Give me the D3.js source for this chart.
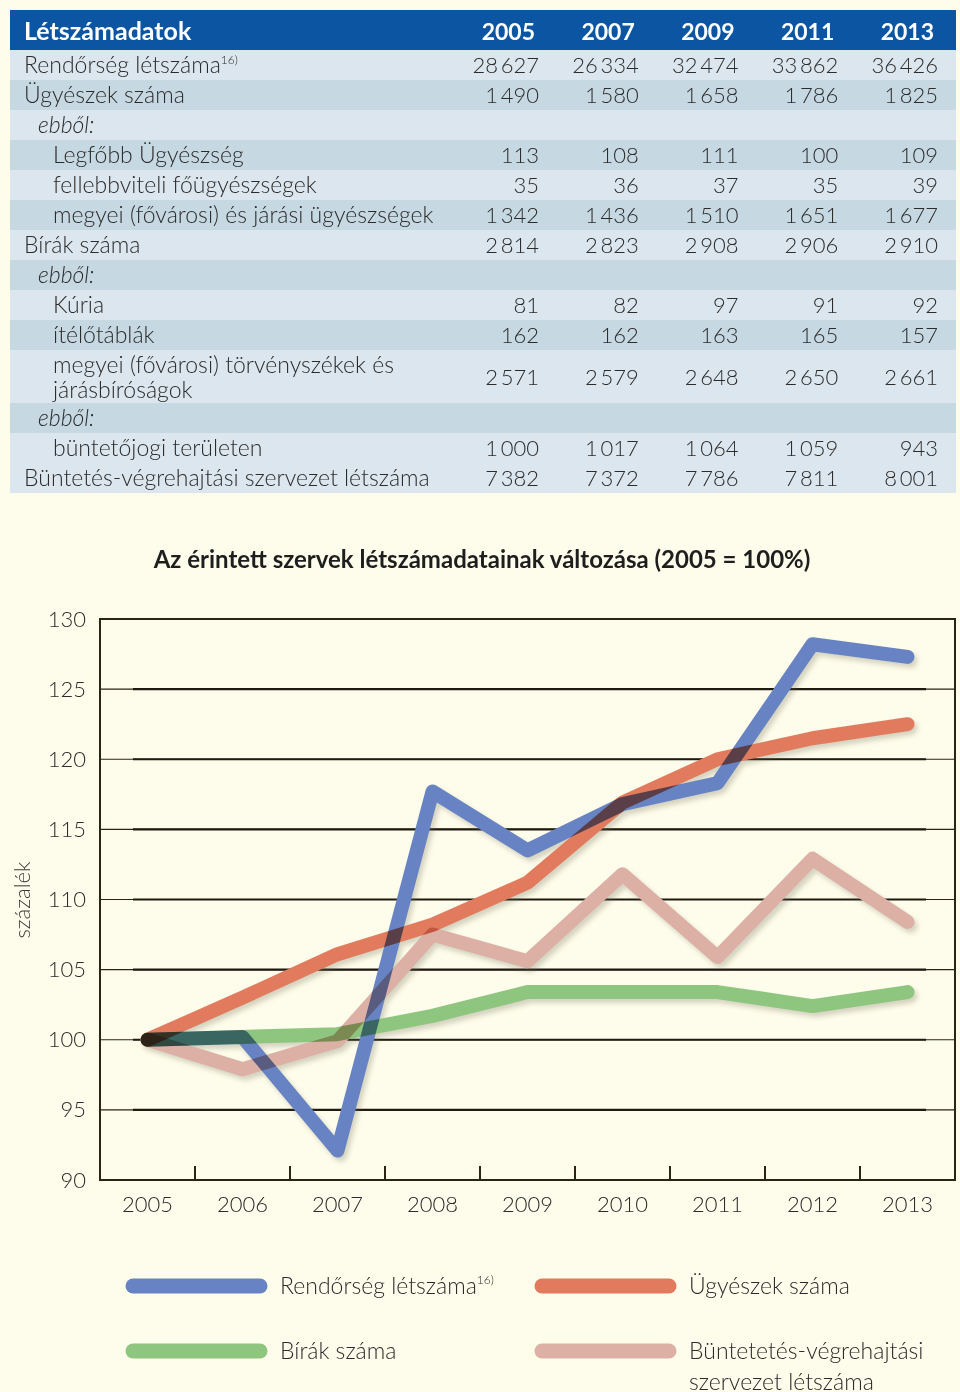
<!DOCTYPE html>
<html><head><meta charset="utf-8">
<script src="https://cdn.jsdelivr.net/npm/d3@7"></script>
<style>
html,body{margin:0;padding:0;background:#fefcea;}
svg{display:block;}
text{font-family:Lato,"Source Sans Pro","Open Sans",sans-serif;}
</style></head><body>
<svg id="c" width="960" height="1392"></svg>
<script>
// ---------- table data ----------
const tableTitle = "Létszámadatok";
const tableYears = [2005, 2007, 2009, 2011, 2013];
const rowLabels = [
  "Rendőrség létszáma", "Ügyészek száma", "ebből:", "Legfőbb Ügyészség",
  "fellebbviteli főügyészségek", "megyei (fővárosi) és járási ügyészségek",
  "Bírák száma", "ebből:", "Kúria", "ítélőtáblák",
  "megyei (fővárosi) törvényszékek és|járásbíróságok", "ebből:",
  "büntetőjogi területen", "Büntetés-végrehajtási szervezet létszáma"
];
const rowLevels = [0, 0, 1, 2, 2, 2, 0, 1, 2, 2, 2, 1, 2, 0];
const rowNotes = ["16)", "", "", "", "", "", "", "", "", "", "", "", "", ""];
const rowValues = [
  [28627, 26334, 32474, 33862, 36426],
  [1490, 1580, 1658, 1786, 1825],
  null,
  [113, 108, 111, 100, 109],
  [35, 36, 37, 35, 39],
  [1342, 1436, 1510, 1651, 1677],
  [2814, 2823, 2908, 2906, 2910],
  null,
  [81, 82, 97, 91, 92],
  [162, 162, 163, 165, 157],
  [2571, 2579, 2648, 2650, 2661],
  null,
  [1000, 1017, 1064, 1059, 943],
  [7382, 7372, 7786, 7811, 8001]
];

// ---------- chart data ----------
const chartTitle = "Az érintett szervek létszámadatainak változása (2005 = 100%)";
const yLabel = "százalék";
const years = [2005, 2006, 2007, 2008, 2009, 2010, 2011, 2012, 2013];
const rendorseg = [100, 100.2, 92.1, 117.7, 113.5, 116.8, 118.3, 128.2, 127.3];
const ugyeszek = [100, 103.0, 106.1, 108.2, 111.2, 116.9, 120.0, 121.5, 122.5];
const birak = [100, 100.2, 100.4, 101.7, 103.4, 103.4, 103.4, 102.4, 103.4];
const buntetes = [100, 97.9, 99.9, 107.5, 105.6, 111.8, 105.9, 112.9, 108.4];
const seriesNames = ["Rendőrség létszáma", "Ügyészek száma", "Bírák száma", "Büntetetés-végrehajtási|szervezet létszáma"];
const seriesNotes = ["16)", "", "", ""];
const yTicks = [90, 95, 100, 105, 110, 115, 120, 125, 130];

const colors = ["#6783c3", "#e27b5e", "#8ec680", "#ddb0a6"];

const svg = d3.select("#c");
const fmt = d3.formatLocale({decimal: ",", thousands: "\u2009", grouping: [3], currency: ["", ""]}).format(",d");

// ---------- TABLE ----------
const tX0 = 10, tX1 = 956, headTop = 10, headH = 40;
const rowH = rowLabels.map(l => l.includes("|") ? 53 : 30);
const rowTop = [];
rowH.reduce((acc, h, i) => { rowTop[i] = acc; return acc + h; }, headTop + headH);
const shade = ["#dbe6ee", "#c6d8e2", "#dbe6ee", "#c6d8e2", "#dbe6ee", "#c6d8e2", "#dbe6ee", "#c6d8e2", "#dbe6ee", "#c6d8e2", "#dbe6ee", "#c6d8e2", "#dbe6ee", "#dbe6ee"];
const colX = d3.scalePoint().domain(tableYears).range([539, 938]);

svg.append("rect").attr("x", tX0).attr("y", headTop).attr("width", tX1 - tX0).attr("height", headH).attr("fill", "#0b55a2");
svg.append("text").attr("x", 24).attr("y", headTop + 30).attr("fill", "#fff").attr("font-weight", 700).attr("font-size", 25).text(tableTitle);
svg.selectAll(".hy").data(tableYears).join("text")
  .attr("x", d => colX(d) - 4).attr("y", headTop + 30).attr("text-anchor", "end")
  .attr("fill", "#fff").attr("font-weight", 700).attr("font-size", 23).text(d => d);

const rows = svg.selectAll(".row").data(rowLabels).join("g").attr("class", "row");
rows.append("rect").attr("x", tX0).attr("y", (d, i) => rowTop[i]).attr("width", tX1 - tX0)
  .attr("height", (d, i) => rowH[i]).attr("fill", (d, i) => shade[i]);
rows.each(function (d, i) {
  const g = d3.select(this);
  const indent = [24, 38, 53][rowLevels[i]];
  const parts = d.split("|");
  const t = g.append("text").attr("x", indent).attr("font-size", 23).attr("font-weight", 300)
    .attr("fill", "#2b2b2b").attr("font-style", d === "ebből:" ? "italic" : "normal");
  t.attr("y", rowTop[i] + 23);
  if (parts.length === 1) {
    t.append("tspan").text(d);
    if (rowNotes[i]) t.append("tspan").attr("font-size", 12).attr("dy", -9).text(rowNotes[i]);
  } else {
    t.append("tspan").attr("x", indent).text(parts[0]);
    t.append("tspan").attr("x", indent).attr("dy", 25).text(parts[1]);
  }
  if (rowValues[i]) {
    g.selectAll(".v").data(rowValues[i]).join("text")
      .attr("x", (v, j) => colX(tableYears[j])).attr("y", rowTop[i] + (parts.length > 1 ? 35 : 23))
      .attr("text-anchor", "end").attr("font-size", 22).attr("font-weight", 300).attr("fill", "#2b2b2b")
      .text(v => fmt(v));
  }
});

// ---------- CHART ----------
const pL = 100, pR = 955, pT = 619, pB = 1180;
const x = d3.scaleBand().domain(years).range([pL, pR]);
const y = d3.scaleLinear().domain([90, 130]).range([pB, pT]);

svg.append("text").attr("x", 482).attr("y", 568).attr("text-anchor", "middle")
  .attr("font-size", 24).attr("font-weight", 700).attr("fill", "#1e1e1e").text(chartTitle);

// gridlines
const grid = svg.append("g");
const gv = yTicks.filter(v => v > 90 && v < 130);
grid.selectAll(".g1").data(gv).join("line")
  .attr("x1", pL).attr("x2", pR).attr("y1", d => y(d)).attr("y2", d => y(d))
  .attr("stroke", "#2a2415").attr("stroke-width", 1.2);
grid.selectAll(".g2").data(gv).join("line")
  .attr("x1", 133).attr("x2", 926).attr("y1", d => y(d)).attr("y2", d => y(d))
  .attr("stroke", "#1e1a10").attr("stroke-width", 2.2);
// frame
svg.append("rect").attr("x", pL).attr("y", pT).attr("width", pR - pL).attr("height", pB - pT)
  .attr("fill", "none").attr("stroke", "#2a2415").attr("stroke-width", 2);

// y axis
const yAxis = d3.axisLeft(y).tickValues(yTicks).tickSize(0).tickPadding(14);
const ya = svg.append("g").attr("transform", `translate(${pL},0)`).call(yAxis);
ya.select(".domain").remove();
ya.selectAll("text").attr("font-size", 22).attr("font-weight", 300).attr("fill", "#2b2b2b")
  .style("font-family", "Lato,'Source Sans Pro',sans-serif");

// x axis ticks at band boundaries
const xAxis = d3.axisBottom(x).tickSize(0).tickPadding(16);
const xa = svg.append("g").attr("transform", `translate(0,${pB})`).call(xAxis);
xa.select(".domain").remove();
xa.selectAll("text").attr("font-size", 22).attr("font-weight", 300).attr("fill", "#2b2b2b")
  .style("font-family", "Lato,'Source Sans Pro',sans-serif");
svg.selectAll(".xt").data(years.slice(1)).join("line")
  .attr("x1", d => x(d)).attr("x2", d => x(d)).attr("y1", pB).attr("y2", pB - 14)
  .attr("stroke", "#2a2415").attr("stroke-width", 2);

svg.append("text").attr("transform", "translate(30,900) rotate(-90)").attr("text-anchor", "middle")
  .attr("font-size", 22).attr("font-weight", 300).attr("fill", "#3a3a3a").text(yLabel);

// lines
const defs = svg.append("defs");
defs.append("filter").attr("id", "blur").attr("x", "-10%").attr("y", "-10%").attr("width", "120%").attr("height", "120%")
  .append("feGaussianBlur").attr("stdDeviation", 2.5);
const allSeries = [buntetes, birak, ugyeszek, rendorseg];
const allColors = [colors[3], colors[2], colors[1], colors[0]];
const line = d3.line().x((d, i) => x(years[i]) + x.bandwidth() / 2).y(d => y(d));
const shadows = svg.append("g").attr("filter", "url(#blur)").attr("opacity", 0.28);
shadows.selectAll("path").data(allSeries).join("path")
  .attr("d", line).attr("transform", "translate(3,4)").attr("fill", "none")
  .attr("stroke", "#6b6a55").attr("stroke-width", 14).attr("stroke-linejoin", "round").attr("stroke-linecap", "round");
const lineG = svg.append("g").style("isolation", "isolate");
lineG.selectAll("path").data(allSeries).join("path")
  .attr("d", line).attr("fill", "none").attr("stroke", (d, i) => allColors[i])
  .attr("stroke-width", 14).attr("stroke-linejoin", "round").attr("stroke-linecap", "round")
  .style("mix-blend-mode", "multiply");

// legend
const legPos = [[126, 1286], [535, 1286], [126, 1351], [535, 1351]];
const lg = svg.selectAll(".lg").data(seriesNames).join("g");
lg.append("line").attr("x1", (d, i) => legPos[i][0] + 7).attr("x2", (d, i) => legPos[i][0] + 134)
  .attr("y1", (d, i) => legPos[i][1]).attr("y2", (d, i) => legPos[i][1])
  .attr("stroke", (d, i) => colors[i]).attr("stroke-width", 15).attr("stroke-linecap", "round");
lg.each(function (d, i) {
  const parts = d.split("|");
  const t = d3.select(this).append("text").attr("x", legPos[i][0] + 154).attr("y", legPos[i][1] + 8)
    .attr("font-size", 23).attr("font-weight", 300).attr("fill", "#2b2b2b");
  t.append("tspan").text(parts[0]);
  if (seriesNotes[i]) t.append("tspan").attr("font-size", 12).attr("dy", -10).text(seriesNotes[i]);
  if (parts[1]) t.append("tspan").attr("x", legPos[i][0] + 154).attr("dy", 31).text(parts[1]);
});
</script>
</body></html>
